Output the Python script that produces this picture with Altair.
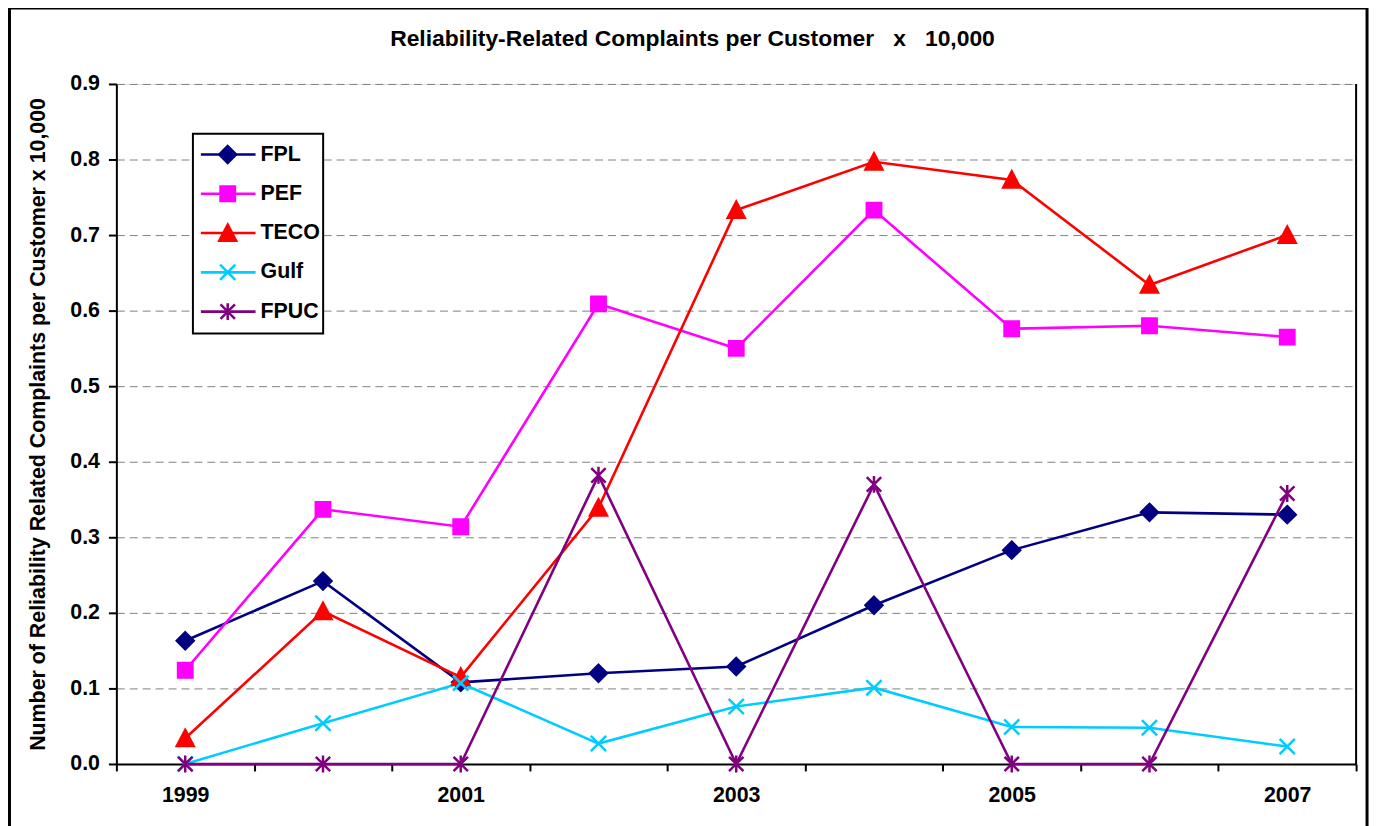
import altair as alt
import pandas as pd

years = [1999, 2000, 2001, 2002, 2003, 2004, 2005, 2006, 2007]
series_names = ["FPL", "PEF", "TECO", "Gulf", "FPUC"]
fpl = [0.163, 0.242, 0.108, 0.120, 0.129, 0.210, 0.283, 0.333, 0.330]
pef = [0.124, 0.337, 0.314, 0.609, 0.550, 0.733, 0.576, 0.580, 0.565]
teco = [0.034, 0.202, 0.115, 0.339, 0.733, 0.797, 0.773, 0.634, 0.700]
gulf = [0.000, 0.054, 0.107, 0.027, 0.076, 0.101, 0.049, 0.048, 0.023]
fpuc = [0.000, 0.000, 0.000, 0.382, 0.000, 0.370, 0.000, 0.000, 0.358]
y_ticks = [0.0, 0.1, 0.2, 0.3, 0.4, 0.5, 0.6, 0.7, 0.8, 0.9]
chart_title = "Reliability-Related Complaints per Customer\u00a0\u00a0 x\u00a0\u00a0 10,000"
y_title = "Number of Reliability Related Complaints per Customer x 10,000"

colors = ["#000080", "#FF00FF", "#FF0000", "#00CCFF", "#800080"]
shapes = [
    "M0,-1L1,0L0,1L-1,0Z",
    "M-0.85,-0.85H0.85V0.85H-0.85Z",
    "M0,-1L1,0.9H-1Z",
    "M-0.9,-0.9L0.9,0.9M-0.9,0.9L0.9,-0.9",
    "M-0.85,-0.85L0.85,0.85M-0.85,0.85L0.85,-0.85M0,-1L0,1",
]

rows = []
for name, vals in zip(series_names, [fpl, pef, teco, gulf, fpuc]):
    for yr, v in zip(years, vals):
        rows.append({"year": yr, "series": name, "value": v})
df = pd.DataFrame(rows)
leg = pd.DataFrame({"series": series_names})
title_df = pd.DataFrame({"t": [chart_title]})

FONT = "Liberation Sans"
FS = 21.5
W, H = 1247, 684
MSIZE = 290

color_scale = alt.Scale(domain=series_names, range=colors)
shape_scale = alt.Scale(domain=series_names, range=shapes)

x_enc = alt.X(
    "year:O",
    bandPosition=0.5,
    scale=alt.Scale(type="band", paddingInner=0, paddingOuter=0),
    axis=alt.Axis(
        title=None, labelAngle=0, tickBand="extent",
        labelExpr="datum.value % 2 == 1 ? datum.label : ''",
        tickSize=7, tickWidth=2, tickColor="black",
        domainColor="black", domainWidth=2,
        labelFont=FONT, labelFontSize=FS, labelFontWeight="bold",
        labelColor="black", labelPadding=14, grid=False,
    ),
)
y_enc = alt.Y(
    "value:Q",
    scale=alt.Scale(domain=[0, 0.9], nice=False),
    axis=alt.Axis(
        values=y_ticks, format=".1f",
        title=y_title,
        titleFont=FONT, titleFontSize=FS, titleFontWeight="bold", titleColor="black",
        titlePadding=20,
        labelFont=FONT, labelFontSize=FS, labelFontWeight="bold", labelColor="black",
        labelPadding=9, tickSize=8, tickWidth=2, tickColor="black",
        domainColor="black", domainWidth=2,
        grid=True, gridColor="#808080", gridDash=[8, 5], gridWidth=1,
    ),
)
y_plain = alt.Y("value:Q", scale=alt.Scale(domain=[0, 0.9], nice=False), axis=None)

base = alt.Chart(df)
lines = base.mark_line(strokeWidth=2.6).encode(
    x=x_enc, y=y_enc,
    color=alt.Color("series:N", scale=color_scale, legend=None),
    detail="series:N",
)
points = base.mark_point(filled=True, strokeWidth=2.5, size=MSIZE, opacity=1).encode(
    x=alt.X("year:O", bandPosition=0.5), y=y_plain,
    color=alt.Color("series:N", scale=color_scale, legend=None),
    stroke=alt.Stroke("series:N", scale=color_scale, legend=None),
    shape=alt.Shape("series:N", scale=shape_scale, legend=None),
)

right_border = alt.Chart(title_df).mark_rule(color="black", strokeWidth=2).encode(
    x=alt.value(W), y=alt.value(0), y2=alt.value(H)
)

leg_y = alt.Y(
    "series:N",
    scale=alt.Scale(type="point", domain=series_names, range=[71, 229], padding=0),
    axis=None,
)
leg_box = alt.Chart(title_df).mark_rect(fill="white", stroke="black", strokeWidth=2).encode(
    x=alt.value(77), x2=alt.value(208), y=alt.value(50), y2=alt.value(251)
)
leg_lines = alt.Chart(leg).mark_rule(strokeWidth=2.6).encode(
    x=alt.value(85), x2=alt.value(140), y=leg_y,
    color=alt.Color("series:N", scale=color_scale, legend=None),
)
leg_pts = alt.Chart(leg).mark_point(filled=True, strokeWidth=2.5, size=MSIZE, opacity=1).encode(
    x=alt.value(112), y=leg_y,
    color=alt.Color("series:N", scale=color_scale, legend=None),
    stroke=alt.Stroke("series:N", scale=color_scale, legend=None),
    shape=alt.Shape("series:N", scale=shape_scale, legend=None),
)
leg_text = alt.Chart(leg).mark_text(
    align="left", baseline="middle", font=FONT, fontSize=FS, fontWeight="bold", color="black"
).encode(x=alt.value(145), y=leg_y, text="series:N")

title_mark = alt.Chart(title_df).mark_text(
    align="center", baseline="alphabetic", font=FONT, fontSize=23, fontWeight="bold",
    color="black", clip=False,
).encode(x=alt.value(579.5), y=alt.value(-38), text="t:N")

frame = alt.Chart(title_df).mark_rect(fillOpacity=0, stroke="black", strokeWidth=3, clip=False).encode(
    x=alt.value(-107.5), x2=alt.value(1258), y=alt.value(-76.5), y2=alt.value(900)
)

chart = alt.layer(
    lines, points, right_border, leg_box, leg_lines, leg_pts, leg_text, title_mark, frame
).resolve_scale(y="independent").properties(
    width=W, height=H,
    autosize=alt.AutoSizeParams(type="none"),
    padding={"left": 109, "top": 74, "right": 17, "bottom": 60},
).configure_view(stroke=None).configure(background="white")

chart.save("out.html", embed_options={"renderer": "svg", "actions": False})
